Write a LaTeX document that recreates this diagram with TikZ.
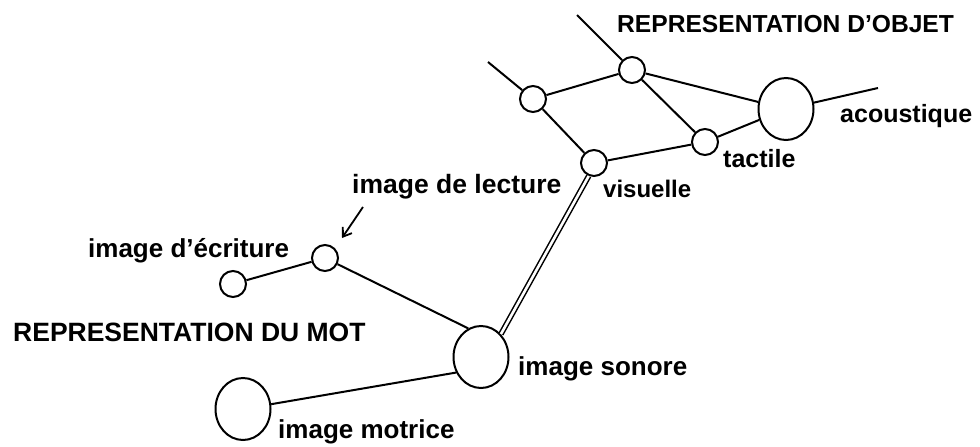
\documentclass[tikz,border=0pt]{standalone}
\usepackage{fontspec}
\setmainfont{Liberation Sans}
\usetikzlibrary{shapes.geometric,arrows.meta}
\tikzset{
  small/.style={circle,draw,line width=2pt,inner sep=0pt,minimum size=26pt},
  big/.style={ellipse,draw,line width=2pt,inner sep=0pt,minimum width=55pt,minimum height=62pt},
  link/.style={line width=2pt},
  dlink/.style={double,line width=1.5pt,double distance=2.6pt},
  lbl/.style={anchor=base west,inner sep=0pt,font=\bfseries\fontsize{25}{25}\selectfont},
  title/.style={anchor=base west,inner sep=0pt},
  pointer/.style={line width=1.8pt,-{Straight Barb[length=8pt,width=11pt,line width=1.8pt]}}
}
\begin{document}
\begin{tikzpicture}[x=1pt,y=-1pt]
\useasboundingbox (0,0) rectangle (980,447);
% object representation
\node[small] (o1) at (632,70) {};
\node[small] (o2) at (533,99) {};
\node[big]   (ac) at (786,109) {};
\node[small] (ta) at (705,142) {};
\node[small] (vi) at (594,163) {};
\coordinate (o1free) at (577,15);
\coordinate (o2free) at (488,62);
\coordinate (acfree) at (878,88);
% word representation
\node[small] (w1) at (325,258) {};
\node[small] (w2) at (233,284) {};
\node[big]   (so) at (481,357) {};
\node[big]   (mo) at (243,409) {};
% connectors
\draw[link] (o1free) -- (o1);
\draw[link] (o2free) -- (o2);
\draw[link] (o2) -- (o1);
\draw[link] (o2) -- (vi);
\draw[link] (o1) -- (ta);
\draw[link] (o1) -- (ac);
\draw[link] (vi) -- (ta);
\draw[link] (ta) -- (ac);
\draw[link] (ac) -- (acfree);
\draw[dlink] (so.49) -- (vi.248);
\draw[link] (w2) -- (w1);
\draw[link] (w1) -- (so.114);
\draw[link] (mo) -- (so.212);
% arrow
\coordinate (arS) at (363,207);
\coordinate (arE) at (342,238);
\draw[pointer] (arS) -- (arE);
% labels
\node[title,font=\bfseries\fontsize{24.6}{25}\selectfont] (tobj) at (617,32) {REPRESENTATION D'OBJET};
\node[title,font=\bfseries\fontsize{26.5}{27}\selectfont] (tmot) at (13,341) {REPRESENTATION DU MOT};
\node[lbl] (tac) at (840,122) {acoustique};
\node[lbl] (tta) at (723,167) {tactile};
\node[lbl,font=\bfseries\fontsize{24}{24}\selectfont] (tvi) at (603,197) {visuelle};
\node[lbl,font=\bfseries\fontsize{26.5}{27}\selectfont] (tle) at (352,193) {image de lecture};
\node[lbl,font=\bfseries\fontsize{26}{26}\selectfont] (tec) at (88,257) {image d'écriture};
\node[lbl,font=\bfseries\fontsize{26}{26}\selectfont] (tso) at (518,375) {image sonore};
\node[lbl,font=\bfseries\fontsize{26}{26}\selectfont] (tmo) at (278,438) {image motrice};
\end{tikzpicture}
\end{document}
